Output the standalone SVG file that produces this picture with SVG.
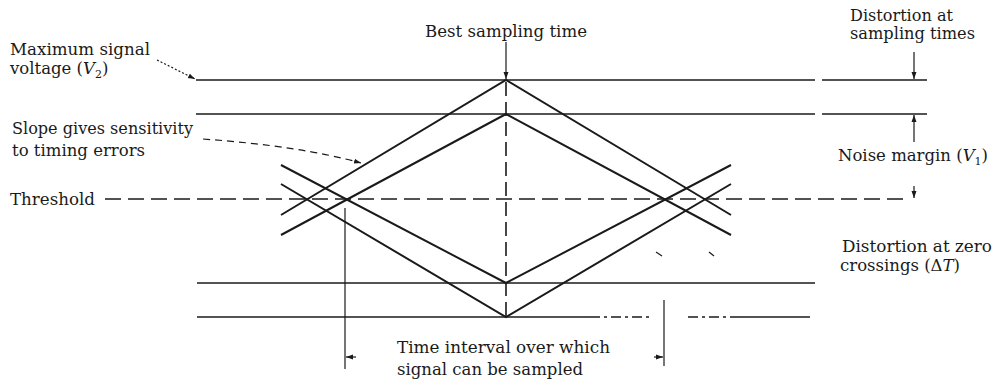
<svg xmlns="http://www.w3.org/2000/svg" width="998" height="382" viewBox="0 0 998 382">
<defs>
<style>
.t{font-family:"DejaVu Serif","Liberation Serif",serif;font-size:16.5px;fill:#1a1a1a}
.ln{stroke:#1a1a1a;stroke-width:1.6;fill:none}
.eye{stroke:#1a1a1a;stroke-width:2;fill:none}
.dash{stroke:#1a1a1a;stroke-width:1.6;fill:none;stroke-dasharray:16 7}
.vdash{stroke:#1a1a1a;stroke-width:1.6;fill:none;stroke-dasharray:14 6}
.thin{stroke:#1a1a1a;stroke-width:1.2;fill:none}
</style>
<marker id="ah" markerWidth="8" markerHeight="8" refX="7" refY="4" orient="auto" markerUnits="userSpaceOnUse">
<path d="M0,1.5 L7,4 L0,6.5 Z" fill="#1a1a1a"/>
</marker>
</defs>
<rect width="998" height="382" fill="#fff"/>

<g id="levels">
<line class="ln" x1="196" y1="80" x2="815" y2="80"/>
<line class="ln" x1="822" y1="80" x2="927" y2="80"/>
<line class="ln" x1="196" y1="114" x2="815" y2="114"/>
<line class="ln" x1="822" y1="114" x2="927" y2="114"/>
<line class="ln" x1="197" y1="283" x2="815" y2="283"/>
<line class="ln" x1="197" y1="317" x2="590" y2="317"/>
<line class="ln" x1="590" y1="317" x2="652" y2="317" stroke-dasharray="10 4 3 4"/>
<line class="ln" x1="688" y1="317" x2="740" y2="317" stroke-dasharray="10 4 3 4"/>
<line class="ln" x1="740" y1="317" x2="810" y2="317"/>
</g>

<g id="threshold-line">
<line class="dash" x1="105" y1="199" x2="905" y2="199"/>
</g>

<g id="eye">
<polyline class="eye" points="281,215 506,80 731,215"/>
<polyline class="eye" points="281,184 506,317 731,184"/>
<polyline class="eye" points="281,235 506,114 731,235"/>
<polyline class="eye" points="281,165 506,283 731,165"/>
<line class="vdash" x1="506" y1="82" x2="506" y2="316"/>
</g>

<g id="connectors">
<line class="thin" x1="506" y1="42" x2="506" y2="79" marker-end="url(#ah)"/>
<path class="thin" d="M157,60 L195,79" stroke-dasharray="2 2" marker-end="url(#ah)"/>
<path class="thin" d="M203,139 Q300,146 361,163" stroke-dasharray="7 5" marker-end="url(#ah)"/>
<line class="thin" x1="914" y1="52" x2="914" y2="79" marker-end="url(#ah)"/>
<line class="thin" x1="914" y1="142" x2="914" y2="115" marker-end="url(#ah)"/>
<line class="thin" x1="914" y1="186" x2="914" y2="198" marker-end="url(#ah)"/>
<line class="thin" x1="345" y1="208" x2="345" y2="369"/>
<line class="thin" x1="664" y1="300" x2="664" y2="366"/>
<line class="thin" x1="356" y1="357" x2="346" y2="357" marker-end="url(#ah)"/>
<line class="thin" x1="654" y1="357" x2="663" y2="357" marker-end="url(#ah)"/>
<line class="thin" x1="656" y1="252" x2="662" y2="256"/>
<line class="thin" x1="709" y1="252" x2="714" y2="256"/>
</g>

<g id="label-max">
<text class="t" x="10" y="55" textLength="140" lengthAdjust="spacingAndGlyphs">Maximum signal</text>
<text class="t" x="10" y="74">voltage (<tspan font-style="italic">V</tspan><tspan font-size="11" dy="4">2</tspan><tspan dy="-4">)</tspan></text>
</g>
<g id="label-best">
<text class="t" x="425" y="37" textLength="162" lengthAdjust="spacingAndGlyphs">Best sampling time</text>
</g>
<g id="label-dist-sampling">
<text class="t" x="850" y="21" textLength="103" lengthAdjust="spacingAndGlyphs">Distortion at</text>
<text class="t" x="850" y="39" textLength="125" lengthAdjust="spacingAndGlyphs">sampling times</text>
</g>
<g id="label-slope">
<text class="t" x="12" y="134" textLength="181" lengthAdjust="spacingAndGlyphs">Slope gives sensitivity</text>
<text class="t" x="12" y="156" textLength="133" lengthAdjust="spacingAndGlyphs">to timing errors</text>
</g>
<g id="label-threshold">
<text class="t" x="10" y="205" textLength="85" lengthAdjust="spacingAndGlyphs">Threshold</text>
</g>
<g id="label-noise">
<text class="t" x="838" y="161">Noise margin (<tspan font-style="italic">V</tspan><tspan font-size="11" dy="4">1</tspan><tspan dy="-4">)</tspan></text>
</g>
<g id="label-dist-zero">
<text class="t" x="842" y="252" textLength="150" lengthAdjust="spacingAndGlyphs">Distortion at zero</text>
<text class="t" x="840" y="271">crossings (Δ<tspan font-style="italic">T</tspan>)</text>
</g>
<g id="label-interval">
<text class="t" x="397" y="353" textLength="213" lengthAdjust="spacingAndGlyphs">Time interval over which</text>
<text class="t" x="397" y="375" textLength="186" lengthAdjust="spacingAndGlyphs">signal can be sampled</text>
</g>
</svg>
